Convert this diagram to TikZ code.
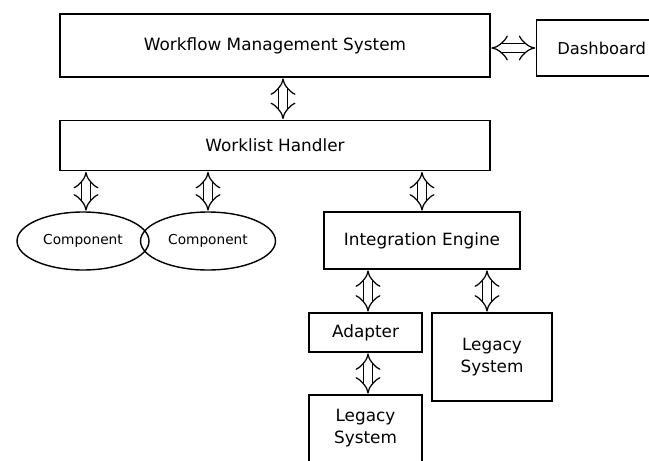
\documentclass[tikz,border=0pt]{standalone}
\usepackage{fontspec}
\setmainfont{DejaVu Sans}
\usepackage{tikz}
\usetikzlibrary{shapes,arrows.meta,positioning,calc}

\begin{document}
\begin{tikzpicture}[x=0.02cm, y=-0.02cm,
        box/.style={rectangle, draw, line width=0.8pt, align=center, font=\fontsize{9.6}{12.5}\selectfont},
        comp/.style={ellipse, draw, line width=0.8pt, font=\fontsize{7.8}{9}\selectfont, inner sep=0pt},
        link/.style={double, double distance=4.4pt, line width=0.7pt, {Implies}-{Implies}, shorten <=0.4pt, shorten >=0.4pt}]

        \useasboundingbox (0,0) rectangle (649,460);
        \clip (0,0) rectangle (649,460);

        % top row
        \node[box, minimum width=8.6cm, minimum height=1.26cm] (wms) at (275,45.5) {Workflow Management System};
        \node[box, anchor=west, minimum width=2.6cm, minimum height=1.12cm, font=\fontsize{9.3}{12}\selectfont] (dash) at (536,48) {Dashboard};
        \node[box, minimum width=8.6cm, minimum height=1.0cm] (wlh) at (275,145.5) {Worklist Handler};

        % components and engine
        \node[comp, minimum width=2.64cm, minimum height=1.16cm] (comp1) at (83,241) {Component};
        \node[comp, minimum width=2.7cm, minimum height=1.16cm] (comp2) at (208,241) {Component};
        \node[box, minimum width=3.92cm, minimum height=1.14cm] (ie) at (422,240.5) {Integration Engine};

        % legacy side
        \node[box, minimum width=2.26cm, minimum height=0.78cm] (adapter) at (365.5,332.5) {Adapter};
        \node[box, minimum width=2.4cm, minimum height=1.76cm] (legR) at (492,357) {Legacy\\System};
        \node[box, minimum width=2.26cm, minimum height=1.34cm] (legB) at (365.5,428.5) {Legacy\\System};

        % connectors
        \draw[link] (dash.west -| wms.east) -- (dash.west);
        \draw[link] ([xshift=0.16cm]wms.south) -- ([xshift=0.16cm]wlh.north);
        \draw[link] (wlh.south -| 86,0) -- (comp1.north -| 86,0);
        \draw[link] (wlh.south -| comp2.north) -- (comp2.north);
        \draw[link] (wlh.south -| ie.north) -- (ie.north);
        \draw[link] (ie.south -| 368,0) -- (adapter.north -| 368,0);
        \draw[link] (ie.south -| 487,0) -- (legR.north -| 487,0);
        \draw[link] (adapter.south -| 368,0) -- (legB.north -| 368,0);

\end{tikzpicture}
\end{document}
